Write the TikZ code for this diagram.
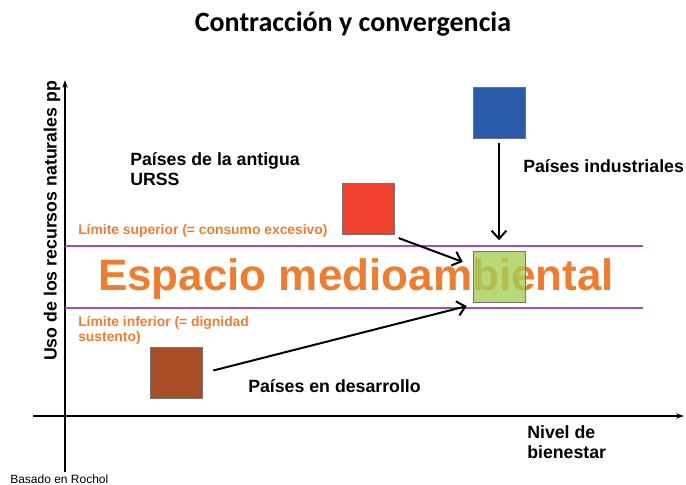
\documentclass[tikz,border=0pt]{standalone}
\usepackage{fontspec}
\setmainfont{Liberation Sans}
\newfontfamily\titlefont{Carlito}
\usetikzlibrary{arrows.meta,positioning}
\definecolor{orangetext}{HTML}{ED7D31}
\definecolor{limitpurple}{HTML}{9E50B4}
\definecolor{industblue}{HTML}{2A5BAA}
\definecolor{urssred}{HTML}{EE402C}
\definecolor{targetgreen}{HTML}{A6CE57}
\definecolor{devbrown}{HTML}{A84D26}

\begin{document}
\begin{tikzpicture}[
            x=0.75pt, y=-0.75pt,
            square/.style={rectangle, draw=black!55, minimum width=39pt,
                        minimum height=38pt, inner sep=0pt},
            label/.style={font=\bfseries\fontsize{13.3}{15.5}\selectfont,
                        align=left, inner sep=0pt},
            limit/.style={font=\bfseries\fontsize{10.4}{11.5}\selectfont,
                        text=orangetext, align=left, inner sep=0pt},
            arrow/.style={-{Straight Barb[length=6pt,width=11pt]}, line width=1.5pt},
            axis/.style={-{Stealth[length=6pt,width=4pt]}, line width=1pt}
        ]
            \useasboundingbox (0,0) rectangle (686,485);

            \node[font=\titlefont\bfseries\fontsize{21}{23}\selectfont] (title) at (353,24) {Contracción y convergencia};

            % axes
            \coordinate (yfoot) at (65,472);
            \coordinate (ytop) at (65,80);
            \coordinate (xfoot) at (33,416);
            \coordinate (xtop) at (684,416);
            \draw[axis] (yfoot) -- (ytop);
            \draw[axis] (xfoot) -- (xtop);
            \node[label, rotate=90] (ylabel) at (52,221) {Uso de los recursos naturales pp};
            \node[label, anchor=north west] (xlabel) at (527,425) {Nivel de\\bienestar};

            % limits
            \coordinate (upleft) at (65,246);
            \coordinate (upright) at (643,246);
            \coordinate (lowleft) at (65,308);
            \coordinate (lowright) at (643,308);
            \draw[limitpurple, line width=0.8pt] (upleft) -- (upright);
            \draw[limitpurple, line width=0.8pt] (lowleft) -- (lowright);
            \node[limit, anchor=west] (upper) at (78,231) {Límite superior (= consumo excesivo)};
            \node[limit, anchor=north west] (lower) at (78,316) {Límite inferior (= dignidad\\sustento)};
            \node[font=\bfseries\fontsize{33}{33}\selectfont, text=orangetext, inner sep=0pt] (space) at (356,279) {Espacio medioambiental};

            % countries
            \node[square, fill=industblue] (industrial) at (499,112.5) {};
            \node[square, fill=urssred] (urss) at (368.5,208.5) {};
            \node[square, fill=devbrown] (develop) at (176,372.5) {};
            \node[square, fill=targetgreen, fill opacity=0.8] (target) at (499,276.5) {};

            \node[label, anchor=west] (industlabel) at (523,166) {Países industriales};
            \node[label, anchor=north west] (ursslabel) at (130,152) {Países de la antigua\\URSS};
            \node[label, anchor=west] (devlabel) at (248,386) {Países en desarrollo};

            \draw[arrow] ([yshift=-4pt]industrial.south) -- ([yshift=8pt]target.north);
            \draw[arrow] ([shift={(4,4)}]urss.south east) -- ([shift={(-10,11)}]target.north west);
            \draw[arrow] ([shift={(11,-2)}]develop.east) -- ([shift={(-6,4)}]target.south west);

            \node[font=\fontsize{9}{10}\selectfont, anchor=west, inner sep=0pt] (source) at (10,479) {Basado en Rochol};
        \end{tikzpicture}
\end{document}
